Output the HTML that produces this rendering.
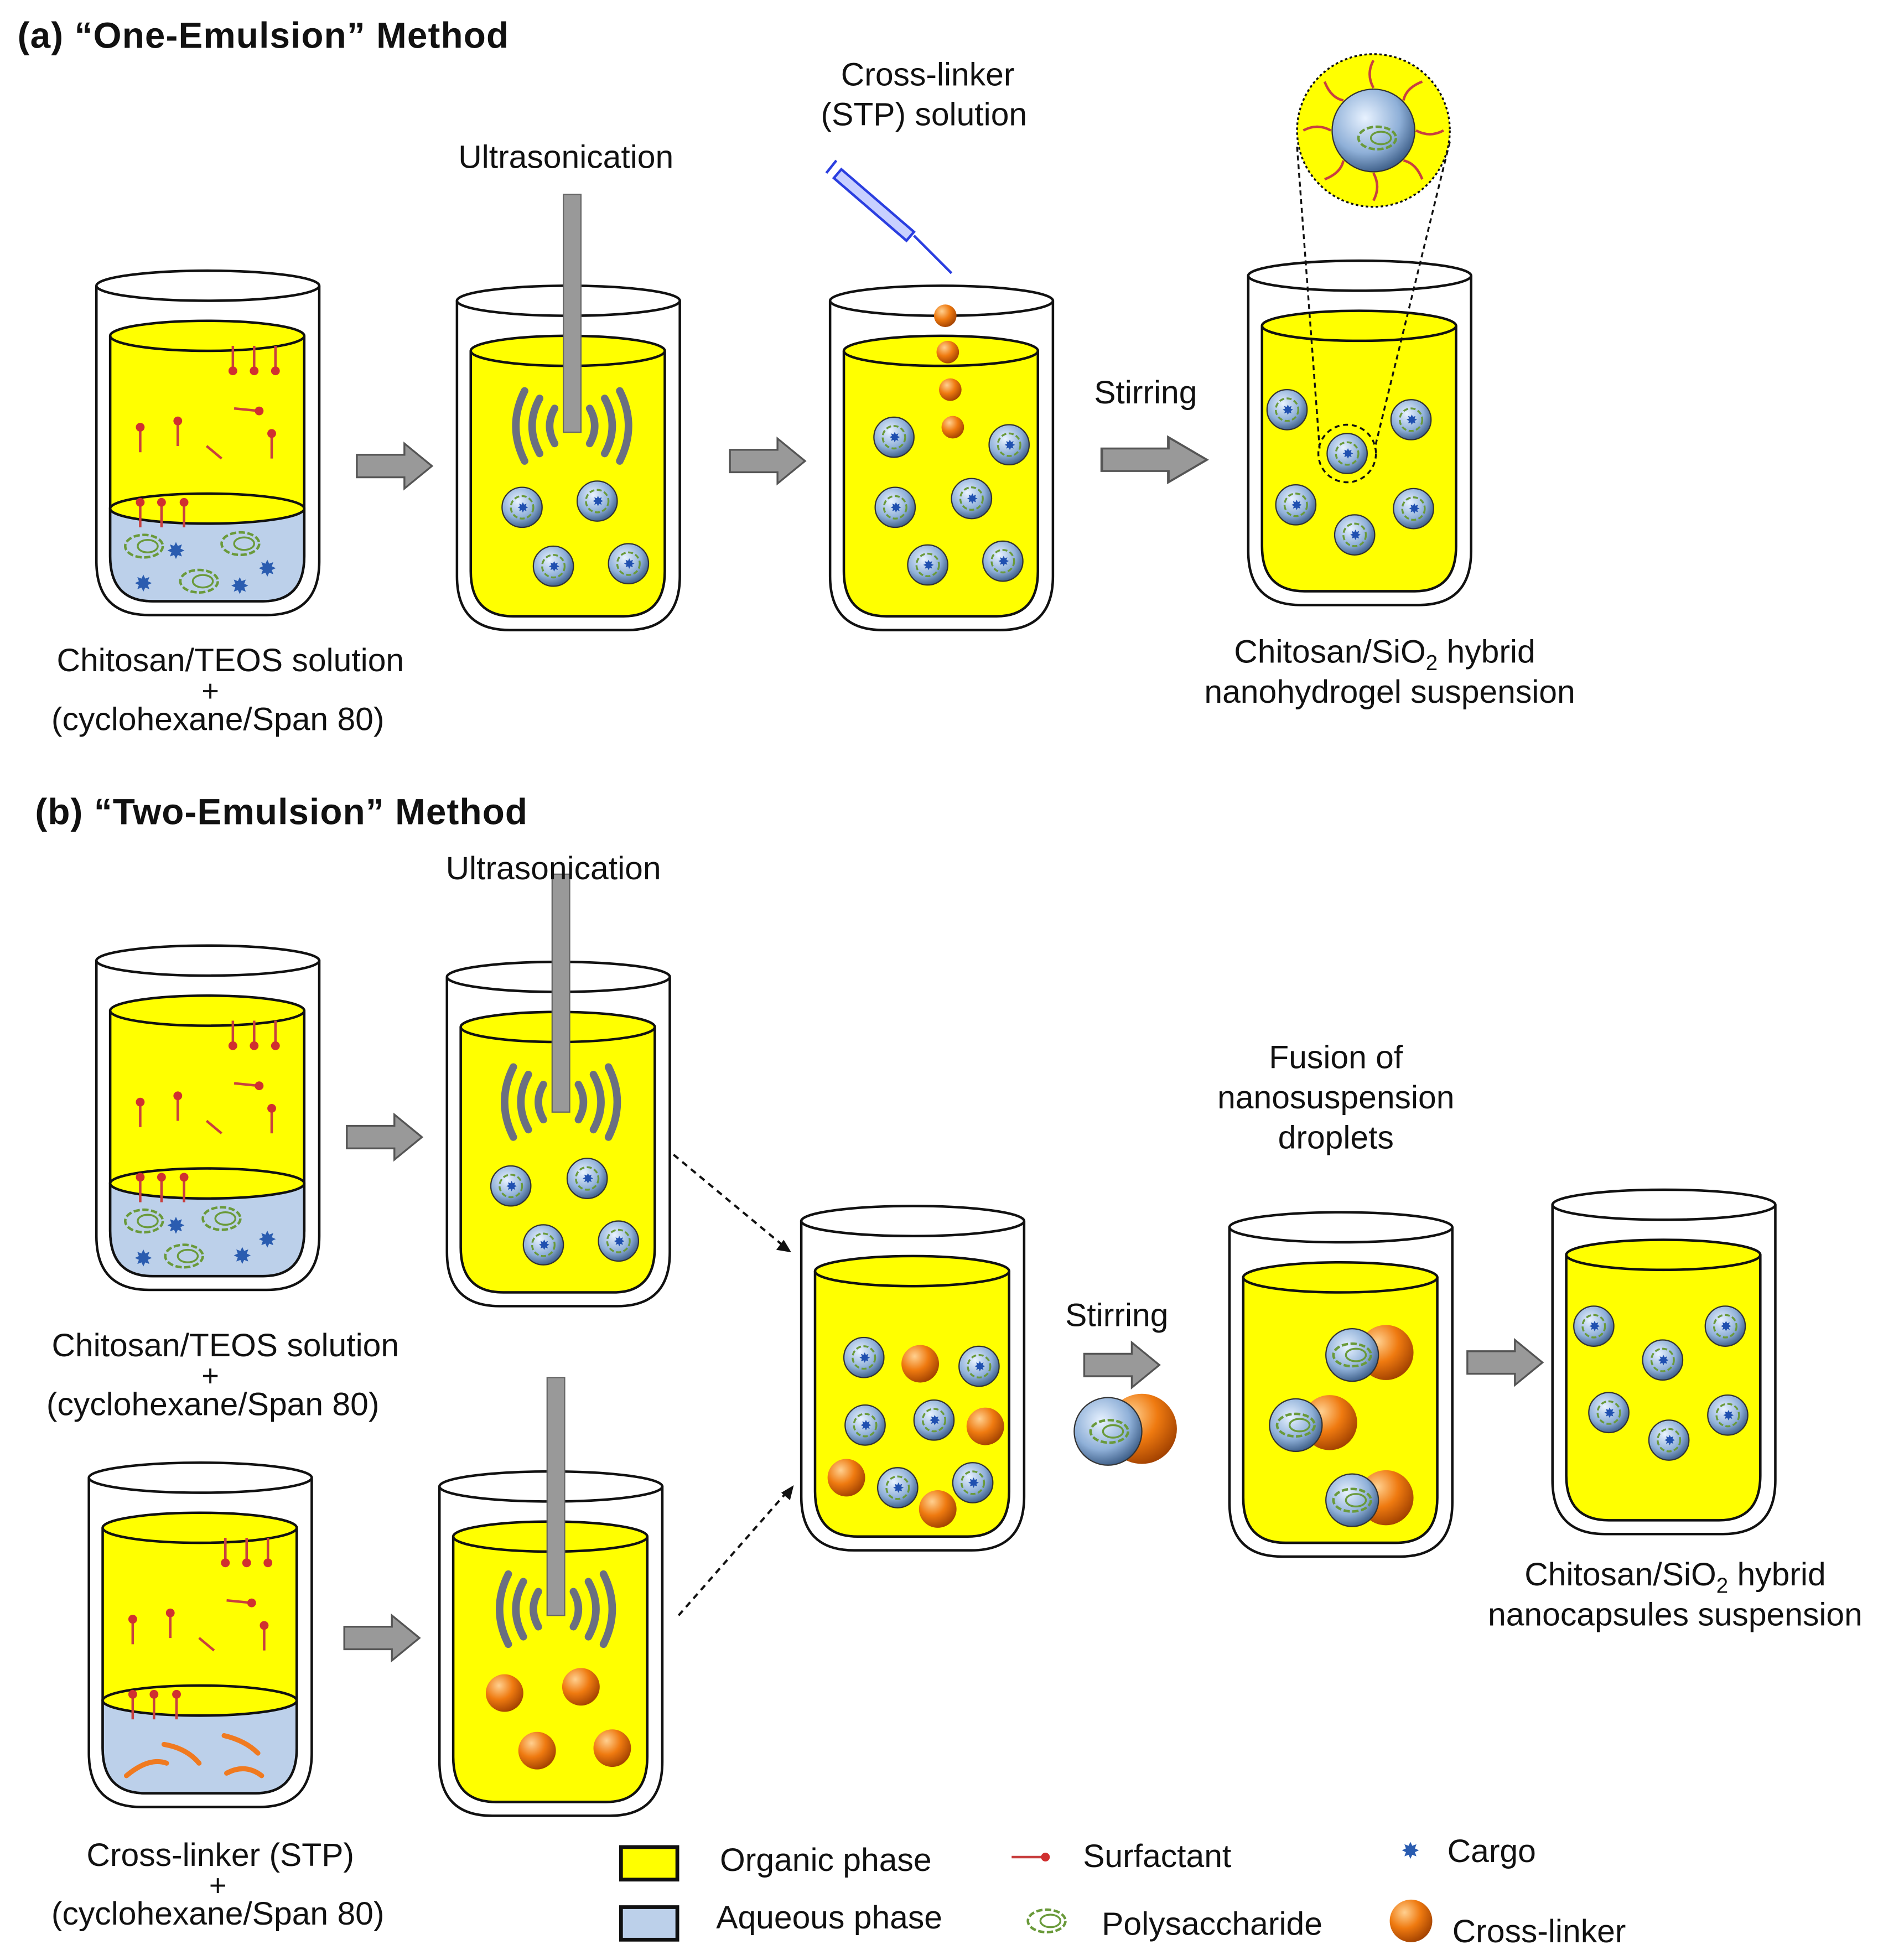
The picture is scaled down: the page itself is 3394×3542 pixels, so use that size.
<!DOCTYPE html>
<html><head><meta charset="utf-8"><style>
html,body{margin:0;padding:0;background:#fff}
svg{display:block}
text{font-family:"Liberation Sans",sans-serif;fill:#111}
</style></head><body>
<svg width="3394" height="3542" viewBox="0 0 1500 1565" xmlns="http://www.w3.org/2000/svg">
<defs>
<radialGradient id="dg" cx="0.4" cy="0.35" r="0.7">
<stop offset="0" stop-color="#e8f2ff"/><stop offset="0.6" stop-color="#8fb0d8"/><stop offset="1" stop-color="#34557f"/></radialGradient>
<radialGradient id="og" cx="0.35" cy="0.3" r="0.75">
<stop offset="0" stop-color="#ffd090"/><stop offset="0.5" stop-color="#ef7a10"/><stop offset="1" stop-color="#a04000"/></radialGradient>
<g id="beaker">
<path d="M0,12 L0,232 Q0,275 42,275 L136,275 Q178,275 178,232 L178,12" fill="#fff" stroke="#111" stroke-width="2"/>
<ellipse cx="89" cy="12" rx="89" ry="12" fill="#fff" stroke="#111" stroke-width="2"/>
<path d="M11,52 L11,228 Q11,264 45,264 L133,264 Q166,264 166,228 L166,52" fill="#ffff00" stroke="#111" stroke-width="2"/>
<ellipse cx="88.5" cy="52" rx="77.5" ry="12" fill="#ffff00" stroke="#111" stroke-width="2"/>
</g>
<g id="aq">
<path d="M11,190 L11,228 Q11,264 45,264 L133,264 Q166,264 166,228 L166,190 Z" fill="#bcd0ea" stroke="#111" stroke-width="2"/>
<ellipse cx="88.5" cy="190" rx="77.5" ry="12" fill="#ffff00" stroke="#111" stroke-width="2"/>
</g>
<g id="drop"><circle r="16" fill="url(#dg)" stroke="#333" stroke-width="1"/><circle r="9" fill="none" stroke="#6a9a3a" stroke-width="1.5" stroke-dasharray="4 2"/><text x="-4" y="4" font-size="11" style="fill:#2050b0">✸</text></g>
<g id="ball"><circle r="15" fill="url(#og)"/></g>
<g id="surf"><line x1="0" y1="0" x2="0" y2="-20" stroke="#c84040" stroke-width="2"/><circle cx="0" cy="-20" r="3.5" fill="#d03030"/></g>
<g id="probe"><rect x="-7" y="0" width="14" height="190" fill="#999" stroke="#666"/></g>
<g id="waves" fill="none" stroke="#6a6f80" stroke-width="6" stroke-linecap="round">
<path d="M-14,-14 Q-22,0 -14,14"/><path d="M-26,-22 Q-38,0 -26,22"/><path d="M-38,-28 Q-52,0 -38,28"/>
<path d="M14,-14 Q22,0 14,14"/><path d="M26,-22 Q38,0 26,22"/><path d="M38,-28 Q52,0 38,28"/>
</g>
<g id="arr"><path d="M0,-9 L38,-9 L38,-18 L60,0 L38,18 L38,9 L0,9 Z" fill="#999" stroke="#555" stroke-width="1.5"/></g>
<g id="poly"><ellipse rx="15" ry="9" fill="none" stroke="#6a9a3a" stroke-width="2" stroke-dasharray="5 2"/><ellipse rx="8" ry="5" cx="3" fill="none" stroke="#6a9a3a" stroke-width="1.5"/></g>
<g id="cargo"><text x="-6" y="6" font-size="18" style="fill:#2a5cb0">✸</text></g>
</defs>

<text x="14" y="38" font-size="29" font-weight="bold" letter-spacing="0.5">(a) “One-Emulsion” Method</text>
<text x="28" y="658" font-size="29" font-weight="bold" letter-spacing="0.5">(b)  “Two-Emulsion” Method</text>

<g transform="translate(77,216)"><use href="#beaker"/><use href="#aq"/>
<g transform="translate(109,60)"><use href="#surf" transform="scale(1,-1)"/></g>
<g transform="translate(126,60)"><use href="#surf" transform="scale(1,-1)"/></g>
<g transform="translate(143,60)"><use href="#surf" transform="scale(1,-1)"/></g>
<use href="#surf" x="35" y="145"/><use href="#surf" x="65" y="140"/><use href="#surf" x="140" y="150"/>
<use href="#surf" x="35" y="205"/><use href="#surf" x="52" y="205"/><use href="#surf" x="70" y="205"/>
<path d="M88,140 l12,10" stroke="#c84040" stroke-width="2"/><path d="M110,110 l20,2" stroke="#c84040" stroke-width="2"/><circle cx="130" cy="112" r="3.5" fill="#d03030"/>
<use href="#poly" x="38" y="220"/><use href="#poly" x="115" y="218"/><use href="#poly" x="82" y="248"/>
<use href="#cargo" x="62" y="224"/><use href="#cargo" x="36" y="250"/><use href="#cargo" x="135" y="238"/><use href="#cargo" x="113" y="252"/>
</g>
<use href="#arr" x="285" y="372"/>
<g transform="translate(365,228)"><use href="#beaker"/></g>
<use href="#probe" x="457" y="155"/><use href="#waves" x="457" y="340"/>
<use href="#drop" x="417" y="405"/><use href="#drop" x="477" y="400"/><use href="#drop" x="442" y="452"/><use href="#drop" x="502" y="450"/>
<text x="452" y="134" font-size="26" text-anchor="middle">Ultrasonication</text>
<use href="#arr" x="583" y="368"/>
<g transform="translate(663,228)"><use href="#beaker"/></g>
<circle cx="755" cy="252" r="9" fill="url(#og)"/><circle cx="757" cy="281" r="9" fill="url(#og)"/><circle cx="759" cy="311" r="9" fill="url(#og)"/><circle cx="761" cy="341" r="9" fill="url(#og)"/>
<use href="#drop" x="714" y="349"/><use href="#drop" x="806" y="355"/><use href="#drop" x="715" y="405"/><use href="#drop" x="776" y="398"/><use href="#drop" x="741" y="451"/><use href="#drop" x="801" y="448"/>
<text x="741" y="68" font-size="26" text-anchor="middle">Cross-linker</text>
<text x="738" y="100" font-size="26" text-anchor="middle">(STP) solution</text>
<g stroke="#2a3ee0" fill="#c8d0ff" stroke-width="2"><path d="M672,135 L730,185 L724,192 L666,142 Z"/><line x1="730" y1="188" x2="760" y2="218"/><line x1="668" y1="128" x2="660" y2="138"/></g>
<text x="915" y="322" font-size="26" text-anchor="middle">Stirring</text>
<use href="#arr" x="880" y="367" transform="translate(880,367) scale(1.4,1) translate(-880,-367)"/>
<g transform="translate(997,208)"><use href="#beaker"/></g>
<use href="#drop" x="1028" y="327"/><use href="#drop" x="1127" y="335"/><use href="#drop" x="1076" y="362"/><use href="#drop" x="1035" y="403"/><use href="#drop" x="1129" y="406"/><use href="#drop" x="1082" y="427"/>
<circle cx="1076" cy="362" r="23" fill="none" stroke="#111" stroke-width="1.5" stroke-dasharray="4 3"/>
<line x1="1036" y1="117" x2="1054" y2="358" stroke="#111" stroke-width="1.5" stroke-dasharray="4 3"/>
<line x1="1158" y1="113" x2="1098" y2="358" stroke="#111" stroke-width="1.5" stroke-dasharray="4 3"/>
<circle cx="1097" cy="104" r="61" fill="#ffff00" stroke="#111" stroke-width="1.5" stroke-dasharray="2 2"/>
<g stroke="#c84040" stroke-width="2" fill="none">
<path d="M1097,70 q-6,-11 0,-22"/><path d="M1097,138 q6,11 0,22"/><path d="M1063,104 q-11,-6 -22,0"/><path d="M1131,104 q11,6 22,0"/>
<path d="M1073,80 q-10,-2 -15,-15"/><path d="M1121,80 q2,-10 15,-15"/><path d="M1073,128 q-2,10 -15,15"/><path d="M1121,128 q10,2 15,15"/>
</g>
<circle cx="1097" cy="104" r="33" fill="url(#dg)" stroke="#333"/>
<use href="#poly" x="1100" y="110"/>
<text x="1106" y="529" font-size="26" text-anchor="middle">Chitosan/SiO<tspan font-size="17" dy="6">2</tspan><tspan dy="-6"> hybrid</tspan></text>
<text x="1110" y="561" font-size="26" text-anchor="middle">nanohydrogel suspension</text>

<text x="184" y="536" font-size="26" text-anchor="middle">Chitosan/TEOS solution</text>
<text x="168" y="560" font-size="24" text-anchor="middle">+</text>
<text x="174" y="583" font-size="26" text-anchor="middle">(cyclohexane/Span 80)</text>

<g transform="translate(77,755)"><use href="#beaker"/><use href="#aq"/>
<g transform="translate(109,60)"><use href="#surf" transform="scale(1,-1)"/></g>
<g transform="translate(126,60)"><use href="#surf" transform="scale(1,-1)"/></g>
<g transform="translate(143,60)"><use href="#surf" transform="scale(1,-1)"/></g>
<use href="#surf" x="35" y="145"/><use href="#surf" x="65" y="140"/><use href="#surf" x="140" y="150"/>
<path d="M88,140 l12,10" stroke="#c84040" stroke-width="2"/><path d="M110,110 l20,2" stroke="#c84040" stroke-width="2"/><circle cx="130" cy="112" r="3.5" fill="#d03030"/>
<use href="#surf" x="35" y="205"/><use href="#surf" x="52" y="205"/><use href="#surf" x="70" y="205"/>
<use href="#poly" x="38" y="220"/><use href="#poly" x="100" y="218"/><use href="#poly" x="70" y="248"/>
<use href="#cargo" x="62" y="224"/><use href="#cargo" x="36" y="250"/><use href="#cargo" x="115" y="248"/><use href="#cargo" x="135" y="235"/>
</g>
<use href="#arr" x="277" y="908"/>
<g transform="translate(357,768)"><use href="#beaker"/></g>
<use href="#probe" x="448" y="698"/><use href="#waves" x="448" y="880"/>
<use href="#drop" x="408" y="947"/><use href="#drop" x="469" y="941"/><use href="#drop" x="434" y="994"/><use href="#drop" x="494" y="991"/>
<text x="442" y="702" font-size="26" text-anchor="middle">Ultrasonication</text>
<text x="180" y="1083" font-size="26" text-anchor="middle">Chitosan/TEOS solution</text>
<text x="168" y="1107" font-size="24" text-anchor="middle">+</text>
<text x="170" y="1130" font-size="26" text-anchor="middle">(cyclohexane/Span 80)</text>

<g transform="translate(71,1168)"><use href="#beaker"/><use href="#aq"/>
<g transform="translate(109,60)"><use href="#surf" transform="scale(1,-1)"/></g>
<g transform="translate(126,60)"><use href="#surf" transform="scale(1,-1)"/></g>
<g transform="translate(143,60)"><use href="#surf" transform="scale(1,-1)"/></g>
<use href="#surf" x="35" y="145"/><use href="#surf" x="65" y="140"/><use href="#surf" x="140" y="150"/>
<path d="M88,140 l12,10" stroke="#c84040" stroke-width="2"/><path d="M110,110 l20,2" stroke="#c84040" stroke-width="2"/><circle cx="130" cy="112" r="3.5" fill="#d03030"/>
<use href="#surf" x="35" y="205"/><use href="#surf" x="52" y="205"/><use href="#surf" x="70" y="205"/>
<g stroke="#f07a20" stroke-width="4" fill="none" stroke-linecap="round"><path d="M30,250 Q48,235 62,240"/><path d="M60,225 Q78,228 88,240"/><path d="M108,218 Q125,222 135,232"/><path d="M110,248 Q125,240 138,250"/></g>
</g>
<use href="#arr" x="275" y="1308"/>
<g transform="translate(351,1175)"><use href="#beaker"/></g>
<use href="#probe" x="444" y="1100"/><use href="#waves" x="444" y="1285"/>
<use href="#ball" x="403" y="1352"/><use href="#ball" x="464" y="1347"/><use href="#ball" x="429" y="1398"/><use href="#ball" x="489" y="1396"/>
<text x="176" y="1490" font-size="26" text-anchor="middle">Cross-linker (STP)</text>
<text x="174" y="1514" font-size="24" text-anchor="middle">+</text>
<text x="174" y="1537" font-size="26" text-anchor="middle">(cyclohexane/Span 80)</text>

<g stroke="#111" stroke-width="1.8" stroke-dasharray="5 4" fill="none"><line x1="538" y1="922" x2="626" y2="995"/><line x1="542" y1="1290" x2="628" y2="1192"/></g>
<path d="M632,1000 l-12,-2 l6,-8 Z" fill="#111"/><path d="M634,1186 l-3,12 l-7,-6 Z" fill="#111"/>

<g transform="translate(640,963)"><use href="#beaker"/></g>
<use href="#drop" x="690" y="1084"/><use href="#ball" x="735" y="1089"/><use href="#drop" x="782" y="1091"/>
<use href="#drop" x="691" y="1138"/><use href="#drop" x="746" y="1134"/><use href="#ball" x="787" y="1139"/>
<use href="#ball" x="676" y="1180"/><use href="#drop" x="717" y="1188"/><use href="#drop" x="777" y="1184"/><use href="#ball" x="749" y="1205"/>
<text x="892" y="1059" font-size="26" text-anchor="middle">Stirring</text>
<use href="#arr" x="866" y="1090"/>
<circle cx="912" cy="1141" r="28" fill="url(#og)"/><circle cx="885" cy="1143" r="27" fill="url(#dg)" stroke="#333"/><use href="#poly" x="886" y="1143"/>

<g transform="translate(982,968)"><use href="#beaker"/></g>
<g><circle cx="1107" cy="1080" r="22" fill="url(#og)"/><circle cx="1080" cy="1082" r="21" fill="url(#dg)" stroke="#333"/><use href="#poly" x="1080" y="1082"/></g>
<g><circle cx="1062" cy="1136" r="22" fill="url(#og)"/><circle cx="1035" cy="1138" r="21" fill="url(#dg)" stroke="#333"/><use href="#poly" x="1035" y="1138"/></g>
<g><circle cx="1107" cy="1196" r="22" fill="url(#og)"/><circle cx="1080" cy="1198" r="21" fill="url(#dg)" stroke="#333"/><use href="#poly" x="1080" y="1198"/></g>
<text x="1067" y="853" font-size="26" text-anchor="middle">Fusion of</text>
<text x="1067" y="885" font-size="26" text-anchor="middle">nanosuspension</text>
<text x="1067" y="917" font-size="26" text-anchor="middle">droplets</text>
<use href="#arr" x="1172" y="1088"/>
<g transform="translate(1240,950)"><use href="#beaker"/></g>
<use href="#drop" x="1273" y="1059"/><use href="#drop" x="1378" y="1059"/><use href="#drop" x="1328" y="1086"/><use href="#drop" x="1285" y="1128"/><use href="#drop" x="1380" y="1130"/><use href="#drop" x="1333" y="1150"/>
<text x="1338" y="1266" font-size="26" text-anchor="middle">Chitosan/SiO<tspan font-size="17" dy="6">2</tspan><tspan dy="-6"> hybrid</tspan></text>
<text x="1338" y="1298" font-size="26" text-anchor="middle">nanocapsules suspension</text>

<rect x="496" y="1475" width="45" height="26" fill="#ffff00" stroke="#111" stroke-width="3"/>
<text x="575" y="1494" font-size="26">Organic phase</text>
<rect x="496" y="1523" width="45" height="26" fill="#bcd0ea" stroke="#111" stroke-width="3"/>
<text x="572" y="1540" font-size="26">Aqueous phase</text>
<line x1="808" y1="1483" x2="832" y2="1483" stroke="#c84040" stroke-width="2"/><circle cx="835" cy="1483" r="3.5" fill="#d03030"/>
<text x="865" y="1491" font-size="26">Surfactant</text>
<use href="#poly" x="836" y="1534"/>
<text x="880" y="1545" font-size="26">Polysaccharide</text>
<use href="#cargo" x="1125" y="1478"/>
<text x="1156" y="1487" font-size="26">Cargo</text>
<circle cx="1127" cy="1534" r="17" fill="url(#og)"/>
<text x="1160" y="1551" font-size="26">Cross-linker</text>
</svg>
</body></html>
